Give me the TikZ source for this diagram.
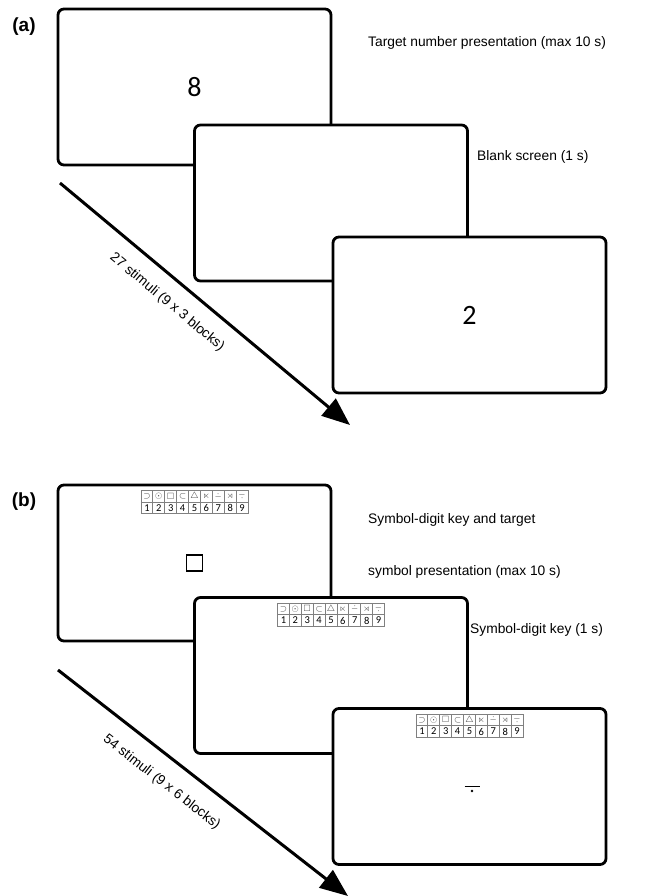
\documentclass[tikz,border=0pt]{standalone}
\usepackage{amssymb}
\usepackage{fontspec}
\setmainfont{Liberation Sans}
\newfontfamily\digitfont{Carlito}
\usetikzlibrary{arrows.meta}

\newcommand{\mdot}{\mathbin{\ooalign{$-$\cr\hidewidth\raisebox{-0.34em}{$\cdot$}\hidewidth\cr}}}
\newcommand{\dotmin}{\mathbin{\ooalign{$-$\cr\hidewidth\raisebox{0.34em}{$\cdot$}\hidewidth\cr}}}

\tikzset{
  screen/.style={draw, fill=white, line width=2.8pt, rounded corners=6pt,
    minimum width=273pt, minimum height=156pt, font=\digitfont\fontsize{28}{30}\selectfont},
  caption/.style={anchor=west, inner sep=0pt, font=\fontsize{13.8}{16}\selectfont},
  panel/.style={inner sep=0pt, font=\bfseries\fontsize{19}{22}\selectfont},
  timeline/.style={line width=3pt, -{Triangle[length=28pt,width=22pt]}},
  keyline/.style={draw=black!50, line width=0.8pt},
  symkey/.pic={
    \draw[keyline] (-53.5,0) rectangle (53.5,23);
    \draw[keyline] (-53.5,11.5) -- (53.5,11.5);
    \foreach \i in {1,...,8} \draw[keyline] (-53.5+\i*11.89,0) -- ++(0,23);
    \foreach \s [count=\i] in {\supset,\odot,\square,\subset,\triangle,\ltimes,\dotmin,\rtimes,\mdot} {
      \node[inner sep=0pt, text=black!80, font=\fontsize{9}{9}\selectfont] at (-59.45+\i*11.89,5.8) {$\s$};
      \node[inner sep=0pt, font=\digitfont\fontsize{10.5}{11}\selectfont] at (-59.45+\i*11.89,17.4) {\i};
    }
  }
}

\begin{document}
\begin{tikzpicture}[x=1pt, y=-1pt]
  \useasboundingbox (0,0) rectangle (646,896);
  % (a) number task
  \node[panel] (pa) at (24,27) {(a)};
  \node[screen] (a1) at (194.5,87) {8};
  \node[screen] (a2) at (331,203) {};
  \node[screen] (a3) at (469.5,315) {2};
  \node[caption] (ca1) at (368,43) {Target number presentation (max 10 s)};
  \node[caption] (ca2) at (477,157) {Blank screen (1 s)};
  \coordinate (sa) at (60,183);
  \coordinate (ea) at (350,425);
  \draw[timeline] (sa) -- (ea)
    node[pos=0.42, sloped, below=15pt, inner sep=0pt, font=\fontsize{13.8}{16}\selectfont] (la) {27 stimuli (9 x 3 blocks)};

  % (b) symbol task
  \node[panel] (pb) at (24,502) {(b)};
  \node[screen] (b1) at (194.5,563) {};
  \pic at ([yshift=-7pt]b1.north) {symkey};
  \node[draw, line width=1.6pt, minimum size=16pt, inner sep=0pt] (sq) at (b1.center) {};
  \node[screen] (b2) at (331,675.5) {};
  \pic at ([yshift=-7pt]b2.north) {symkey};
  \node[screen] (b3) at (469.5,786.5) {};
  \pic at ([yshift=-7pt]b3.north) {symkey};
  \draw[line width=1.8pt] ([xshift=-5pt]b3.center) -- ([xshift=10pt]b3.center);
  \fill ([xshift=2.5pt,yshift=-4.5pt]b3.center) circle (1.3pt);
  \node[caption] (cb1) at (368,520) {Symbol-digit key and target};
  \node[caption] (cb2) at (368,572) {symbol presentation (max 10 s)};
  \node[caption] (cb3) at (470,630) {Symbol-digit key (1 s)};
  \coordinate (sb) at (58,670);
  \coordinate (eb) at (348,896);
  \draw[timeline] (sb) -- (eb)
    node[pos=0.41, sloped, below=17pt, inner sep=0pt, font=\fontsize{13.8}{16}\selectfont] (lb) {54 stimuli (9 x 6 blocks)};
\end{tikzpicture}
\end{document}
